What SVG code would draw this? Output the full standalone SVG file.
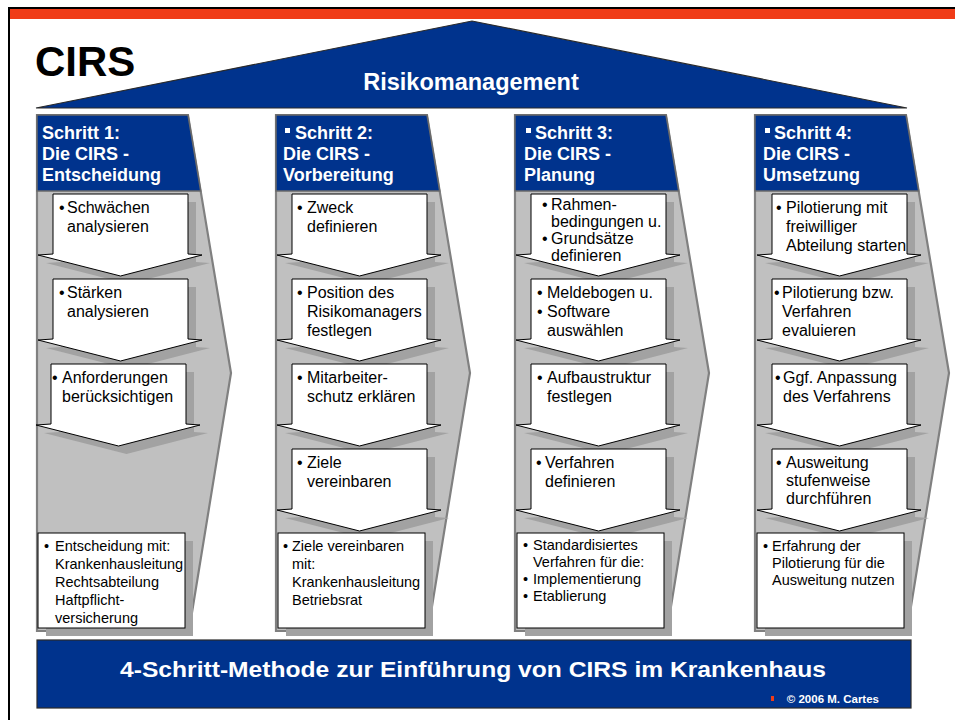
<svg xmlns="http://www.w3.org/2000/svg" xmlns:xlink="http://www.w3.org/1999/xlink" width="955" height="720" viewBox="0 0 955 720">
<style>
.blue{fill:#00338D;stroke:#2a2a2a;stroke-width:1.2}
.col{fill:#C0C0C0;stroke:#808080;stroke-width:2.2}
.hdr{fill:#00338D;stroke:#6a6a6a;stroke-width:1.5}
.box{fill:#fff;stroke:#000;stroke-width:1}
.sh{fill:#A2A2A2}
.t{font-family:"Liberation Sans",Arial,sans-serif;font-size:16px;fill:#000}
.s{font-size:14.5px}
.h{font-family:"Liberation Sans",Arial,sans-serif;font-size:18px;font-weight:bold;fill:#fff}
.sq{fill:#fff}
</style>
<defs>
<polygon id="arr" points="0,0 135,0 135,60 149,61 67.5,82 -15,61 0,60"/>
</defs>
<rect x="0" y="0" width="955" height="720" fill="#fff"/>
<g id="frame">
<line x1="8" y1="8" x2="955" y2="8" stroke="#000" stroke-width="2"/>
<line x1="9" y1="7" x2="9" y2="720" stroke="#000" stroke-width="2"/>
<rect x="10" y="9" width="945" height="10" fill="#F03C18"/>
</g>
<g id="title">
<text x="35" y="76" font-family="Liberation Sans,Arial,sans-serif" font-size="42" font-weight="bold" fill="#000">CIRS</text>
</g>
<g id="roof">
<polygon class="blue" points="36,108 472,21 907,108"/>
<text x="471" y="90" text-anchor="middle" font-family="Liberation Sans,Arial,sans-serif" font-size="23.5" font-weight="bold" fill="#fff">Risikomanagement</text>
</g>

<g id="step1">
<polygon class="col" points="37,115 188,115 231,373 189,631 37,631"/>
<polygon class="hdr" points="37,115 188,115 200.7,191 37,191"/>
<text class="h"><tspan x="42" y="139">Schritt 1:</tspan><tspan x="42" y="160">Die CIRS -</tspan><tspan x="42" y="181">Entscheidung</tspan></text>
</g>
<g id="step1-a">
<use xlink:href="#arr" x="61" y="202" class="sh"/><use xlink:href="#arr" x="53" y="194" class="box"/>
<text class="t"><tspan x="59" y="213">•</tspan><tspan x="67" y="213">Schwächen</tspan><tspan x="67" y="232">analysieren</tspan></text>
</g>
<g id="step1-b">
<use xlink:href="#arr" x="61" y="287" class="sh"/><use xlink:href="#arr" x="53" y="279" class="box"/>
<text class="t"><tspan x="59" y="298">•</tspan><tspan x="67" y="298">Stärken</tspan><tspan x="67" y="317">analysieren</tspan></text>
</g>
<g id="step1-c">
<use xlink:href="#arr" x="59" y="372" class="sh"/><use xlink:href="#arr" x="51" y="364" class="box"/>
<text class="t"><tspan x="52" y="383">•</tspan><tspan x="62" y="383">Anforderungen</tspan><tspan x="62" y="402">berücksichtigen</tspan></text>
</g>
<g id="step1-d">
<rect class="sh" x="46" y="541" width="147" height="95"/><rect class="box" x="38" y="533" width="147" height="95"/>
<text class="t s"><tspan x="44" y="551">•</tspan><tspan x="55" y="551">Entscheidung mit:</tspan><tspan x="55" y="569">Krankenhausleitung</tspan><tspan x="55" y="587">Rechtsabteilung</tspan><tspan x="55" y="605">Haftpflicht-</tspan><tspan x="55" y="623">versicherung</tspan></text>
</g>

<g id="step2">
<polygon class="col" points="276,115 427,115 470,373 428,631 276,631"/>
<polygon class="hdr" points="276,115 427,115 439.7,191 276,191"/>
<rect class="sq" x="285" y="128" width="5" height="5"/>
<text class="h"><tspan x="295" y="139">Schritt 2:</tspan><tspan x="283" y="160">Die CIRS -</tspan><tspan x="283" y="181">Vorbereitung</tspan></text>
</g>
<g id="step2-a">
<use xlink:href="#arr" x="300" y="202" class="sh"/><use xlink:href="#arr" x="292" y="194" class="box"/>
<text class="t"><tspan x="297" y="213">•</tspan><tspan x="307" y="213">Zweck</tspan><tspan x="307" y="232">definieren</tspan></text>
</g>
<g id="step2-b">
<use xlink:href="#arr" x="300" y="287" class="sh"/><use xlink:href="#arr" x="292" y="279" class="box"/>
<text class="t"><tspan x="297" y="298">•</tspan><tspan x="307" y="298">Position des</tspan><tspan x="307" y="317">Risikomanagers</tspan><tspan x="307" y="336">festlegen</tspan></text>
</g>
<g id="step2-c">
<use xlink:href="#arr" x="300" y="372" class="sh"/><use xlink:href="#arr" x="292" y="364" class="box"/>
<text class="t"><tspan x="297" y="383">•</tspan><tspan x="307" y="383">Mitarbeiter-</tspan><tspan x="307" y="402">schutz erklären</tspan></text>
</g>
<g id="step2-d">
<use xlink:href="#arr" x="300" y="457" class="sh"/><use xlink:href="#arr" x="292" y="449" class="box"/>
<text class="t"><tspan x="297" y="468">•</tspan><tspan x="307" y="468">Ziele</tspan><tspan x="307" y="487">vereinbaren</tspan></text>
</g>
<g id="step2-e">
<rect class="sh" x="286" y="541" width="147" height="95"/><rect class="box" x="278" y="533" width="147" height="95"/>
<text class="t s"><tspan x="283" y="551">•</tspan><tspan x="292" y="551">Ziele vereinbaren</tspan><tspan x="292" y="569">mit:</tspan><tspan x="292" y="587">Krankenhausleitung</tspan><tspan x="292" y="605">Betriebsrat</tspan></text>
</g>

<g id="step3">
<polygon class="col" points="515,115 666,115 709,373 667,631 515,631"/>
<polygon class="hdr" points="515,115 666,115 678.7,191 515,191"/>
<rect class="sq" x="526" y="128" width="5" height="5"/>
<text class="h"><tspan x="535" y="139">Schritt 3:</tspan><tspan x="524" y="160">Die CIRS -</tspan><tspan x="524" y="181">Planung</tspan></text>
</g>
<g id="step3-a">
<use xlink:href="#arr" x="539" y="202" class="sh"/><use xlink:href="#arr" x="531" y="194" class="box"/>
<text class="t"><tspan x="542" y="210">•</tspan><tspan x="551" y="210">Rahmen-</tspan><tspan x="551" y="227">bedingungen u.</tspan><tspan x="542" y="244">•</tspan><tspan x="551" y="244">Grundsätze</tspan><tspan x="551" y="261">definieren</tspan></text>
</g>
<g id="step3-b">
<use xlink:href="#arr" x="539" y="287" class="sh"/><use xlink:href="#arr" x="531" y="279" class="box"/>
<text class="t"><tspan x="537" y="298">•</tspan><tspan x="547" y="298">Meldebogen u.</tspan><tspan x="537" y="317">•</tspan><tspan x="547" y="317">Software</tspan><tspan x="547" y="336">auswählen</tspan></text>
</g>
<g id="step3-c">
<use xlink:href="#arr" x="539" y="372" class="sh"/><use xlink:href="#arr" x="531" y="364" class="box"/>
<text class="t"><tspan x="537" y="383">•</tspan><tspan x="547" y="383">Aufbaustruktur</tspan><tspan x="547" y="402">festlegen</tspan></text>
</g>
<g id="step3-d">
<use xlink:href="#arr" x="539" y="457" class="sh"/><use xlink:href="#arr" x="531" y="449" class="box"/>
<text class="t"><tspan x="536" y="468">•</tspan><tspan x="545" y="468">Verfahren</tspan><tspan x="545" y="487">definieren</tspan></text>
</g>
<g id="step3-e">
<rect class="sh" x="525" y="541" width="147" height="95"/><rect class="box" x="517" y="533" width="147" height="95"/>
<text class="t s"><tspan x="523" y="550">•</tspan><tspan x="533" y="550">Standardisiertes</tspan><tspan x="533" y="567">Verfahren für die:</tspan><tspan x="523" y="584">•</tspan><tspan x="533" y="584">Implementierung</tspan><tspan x="523" y="601">•</tspan><tspan x="533" y="601">Etablierung</tspan></text>
</g>

<g id="step4">
<polygon class="col" points="755,115 906,115 949,373 907,631 755,631"/>
<polygon class="hdr" points="755,115 906,115 918.7,191 755,191"/>
<rect class="sq" x="765" y="128" width="5" height="5"/>
<text class="h"><tspan x="774" y="139">Schritt 4:</tspan><tspan x="763" y="160">Die CIRS -</tspan><tspan x="763" y="181">Umsetzung</tspan></text>
</g>
<g id="step4-a">
<use xlink:href="#arr" x="780" y="202" class="sh"/><use xlink:href="#arr" x="772" y="194" class="box"/>
<text class="t"><tspan x="776" y="213">•</tspan><tspan x="786" y="213">Pilotierung mit</tspan><tspan x="786" y="232">freiwilliger</tspan><tspan x="786" y="251">Abteilung starten</tspan></text>
</g>
<g id="step4-b">
<use xlink:href="#arr" x="780" y="287" class="sh"/><use xlink:href="#arr" x="772" y="279" class="box"/>
<text class="t"><tspan x="774" y="298">•</tspan><tspan x="782" y="298">Pilotierung bzw.</tspan><tspan x="782" y="317">Verfahren</tspan><tspan x="782" y="336">evaluieren</tspan></text>
</g>
<g id="step4-c">
<use xlink:href="#arr" x="780" y="372" class="sh"/><use xlink:href="#arr" x="772" y="364" class="box"/>
<text class="t"><tspan x="775" y="383">•</tspan><tspan x="783" y="383">Ggf. Anpassung</tspan><tspan x="783" y="402">des Verfahrens</tspan></text>
</g>
<g id="step4-d">
<use xlink:href="#arr" x="780" y="457" class="sh"/><use xlink:href="#arr" x="772" y="449" class="box"/>
<text class="t"><tspan x="776" y="468">•</tspan><tspan x="786" y="468">Ausweitung</tspan><tspan x="786" y="486">stufenweise</tspan><tspan x="786" y="504">durchführen</tspan></text>
</g>
<g id="step4-e">
<rect class="sh" x="765" y="541" width="147" height="95"/><rect class="box" x="757" y="533" width="147" height="95"/>
<text class="t s"><tspan x="763" y="551">•</tspan><tspan x="772" y="551">Erfahrung der</tspan><tspan x="772" y="568">Pilotierung für die</tspan><tspan x="772" y="585">Ausweitung nutzen</tspan></text>
</g>

<g id="footer">
<rect class="blue" x="37" y="640" width="874" height="68"/>
<text x="473" y="677" text-anchor="middle" font-family="Liberation Sans,Arial,sans-serif" font-size="22" font-weight="bold" fill="#fff" textLength="706" lengthAdjust="spacingAndGlyphs">4-Schritt-Methode zur Einführung von CIRS im Krankenhaus</text>
<rect x="771" y="696" width="3" height="5" fill="#F03C18"/>
<text x="879" y="703" text-anchor="end" font-family="Liberation Sans,Arial,sans-serif" font-size="11.5" font-weight="bold" fill="#fff">© 2006 M. Cartes</text>
</g>
</svg>
